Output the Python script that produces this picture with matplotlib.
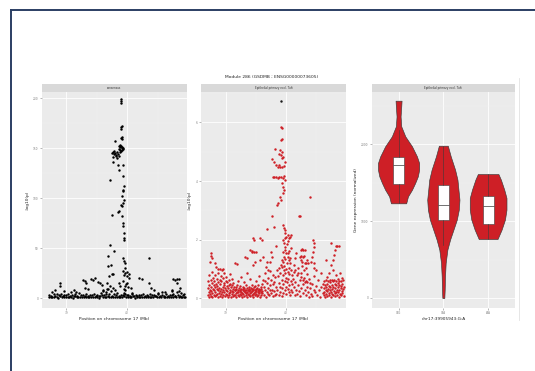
import matplotlib
matplotlib.use("Agg")
import matplotlib.pyplot as plt
from matplotlib.lines import Line2D

plt.rcParams['font.family'] = ['DejaVu Sans']

# ---------------- data ----------------
title = "Module 286 (GSDMB ; ENSG00000073605)"
strip_labels = ["consensus", "Epithelial primary excl. Tuft", "Epithelial primary excl. Tuft"]
x_label_pos = "Position on chromosome 17 (Mb)"
x_label_geno = "chr17:39905943:G:A"
y_label_p = "-log10(p)"
y_label_expr = "Gene expression (normalized)"

# consensus -log10(p), dense baseline near zero
consensus_base = [
    (38.71, 1.2), (38.72, 3.1), (38.74, 0.6), (38.75, 2.2), (38.76, 6.5), (38.77, 1.5), (38.79, 3.6),
    (38.80, 0.8), (38.81, 8.0), (38.82, 2.4), (38.84, 1.1), (38.85, 4.2), (38.87, 0.5), (38.88, 2.8),
    (38.90, 1.6), (38.91, 3.9), (38.93, 0.7), (38.94, 2.1), (38.96, 1.3), (38.97, 3.3), (38.99, 0.6),
    (39.00, 2.6), (39.02, 1.4), (39.03, 4.5), (39.05, 0.9), (39.06, 2.3), (39.08, 1.1), (39.09, 3.4),
    (39.11, 0.5), (39.12, 2.0), (39.14, 1.7), (39.15, 3.8), (39.16, 6.0), (39.17, 0.8), (39.18, 2.5),
    (39.20, 1.2), (39.21, 4.8), (39.23, 0.6), (39.24, 2.9), (39.26, 1.5), (39.27, 3.2), (39.29, 0.7),
    (39.30, 2.2), (39.32, 1.3), (39.33, 3.7), (39.35, 0.9), (39.36, 2.4), (39.38, 1.0), (39.39, 3.1),
    (39.41, 0.6), (39.42, 2.7), (39.44, 1.4), (39.45, 4.1), (39.47, 0.8), (39.48, 2.3), (39.50, 1.2),
    (39.51, 3.5), (39.53, 0.5), (39.54, 2.0), (39.56, 1.6), (39.57, 5.5), (39.58, 3.0), (39.60, 0.9),
    (39.61, 7.2), (39.62, 2.6), (39.63, 1.3), (39.65, 4.4), (39.66, 0.7), (39.67, 9.0), (39.68, 2.2),
    (39.70, 1.1), (39.71, 3.6), (39.73, 0.8), (39.74, 6.8), (39.75, 2.5), (39.77, 1.4), (39.78, 3.9),
    (39.80, 0.6), (39.81, 2.8), (39.83, 1.2), (39.84, 4.6), (39.86, 0.9), (39.87, 2.1), (39.89, 1.5),
    (39.90, 3.3), (39.92, 0.7), (39.93, 2.6), (39.95, 1.8), (39.96, 4.0), (39.98, 1.0), (39.99, 2.9),
    (40.01, 0.6), (40.02, 3.5), (40.04, 1.3), (40.05, 2.2), (40.07, 0.8), (40.08, 3.8), (40.10, 1.6),
    (40.11, 2.4), (40.13, 0.5), (40.14, 3.0), (40.16, 1.1), (40.17, 2.0), (40.19, 0.7), (40.20, 3.2),
    (40.22, 1.4), (40.23, 2.6), (40.25, 0.9), (40.26, 3.7), (40.28, 1.2), (40.29, 2.1), (40.31, 0.6),
    (40.32, 3.4), (40.34, 1.5), (40.35, 2.3), (40.37, 0.8), (40.38, 4.1), (40.40, 1.0), (40.41, 2.7),
    (40.43, 0.6), (40.44, 3.1), (40.46, 1.7), (40.47, 2.2), (40.49, 0.9), (40.50, 5.2), (40.51, 3.6),
    (40.53, 1.3), (40.54, 2.4), (40.56, 0.7), (40.57, 6.4), (40.58, 3.0), (40.60, 1.1), (40.61, 2.5),
    (40.63, 0.8), (40.64, 3.9), (40.66, 1.4), (40.67, 2.2), (40.69, 0.6), (40.70, 3.3), (40.72, 1.2),
    (40.73, 2.7), (40.75, 0.9), (40.76, 4.3), (40.78, 1.6), (40.79, 2.3), (40.81, 0.7), (40.82, 5.8),
    (40.83, 3.1), (40.85, 1.3), (40.86, 7.5), (40.87, 2.4), (40.88, 0.8), (40.89, 4.8), (40.91, 1.5),
    (40.92, 2.9), (40.93, 0.6), (40.94, 3.6), (40.95, 1.2),
]

# consensus points above the baseline
consensus_peak = [
    (39.87, 152), (39.88, 153), (39.89, 151), (39.90, 152.5), (39.91, 150), (39.92, 151.5), (39.93, 149),
    (39.88, 148), (39.90, 147), (39.92, 148.5), (39.94, 150.5), (39.89, 146), (39.86, 149), (39.75, 145),
    (39.76, 146.5), (39.78, 144), (39.79, 147), (39.80, 145.5), (39.82, 143), (39.84, 146), (39.85, 144.5),
    (39.86, 142), (39.77, 141), (39.81, 142.5), (39.83, 140), (39.76, 136.7), (39.85, 133), (39.86, 128),
    (39.93, 132.7), (39.80, 157.7), (39.90, 160.5), (39.91, 161.7), (39.92, 159.5), (39.90, 171),
    (39.905, 169), (39.91, 172), (39.905, 195.5), (39.905, 197.5), (39.905, 199),
    (39.935, 122), (39.72, 118), (39.945, 111.7), (39.94, 108), (39.93, 106.7), (39.92, 102), (39.945, 98),
    (39.935, 95), (39.92, 91.7), (39.905, 93), (39.87, 86.7), (39.85, 85.7), (39.75, 83), (39.92, 82),
    (39.935, 75), (39.94, 71.7), (39.945, 65), (39.955, 60), (39.95, 58), (39.725, 53), (39.79, 46.7),
    (39.68, 41.7), (39.735, 33), (39.93, 40), (39.95, 36.7), (39.96, 35), (40.365, 40), (39.775, 24),
    (39.745, 24), (39.93, 26.7), (39.945, 23), (39.97, 25), (40.0, 25.7), (40.03, 24), (39.99, 21.7),
    (40.03, 20), (40.2, 20), (40.24, 19.3), (39.69, 31.7), (39.70, 22), (39.96, 30), (39.94, 17),
    (39.98, 14), (39.96, 12), (40.01, 11), (39.95, 9),
    (38.893, 15), (38.904, 12), (39.27, 17.7), (39.30, 16.7), (39.326, 15), (39.41, 19), (39.44, 18),
    (39.466, 20), (39.52, 15.7), (39.55, 15), (39.58, 13.3), (39.30, 10), (39.354, 9), (39.129, 7.7),
    (39.073, 5.7), (38.961, 6.7), (40.365, 15), (40.393, 10), (40.449, 8.3), (40.758, 19), (40.787, 18.3),
    (40.826, 19), (40.86, 19), (40.815, 15), (40.73, 8.3), (40.74, 6.7), (40.871, 10), (40.618, 5.7),
    (39.86, 15), (39.888, 11.7), (39.972, 8.3), (40.0, 15), (40.056, 10), (40.084, 5), (39.944, 5),
    (39.803, 8.3), (39.775, 10), (39.719, 11.7), (39.663, 15), (39.607, 8.3), (39.65, 6.5), (39.69, 9.5),
]

# epithelial -log10(p): elevated points
epi_high = [
    (39.917, 5.83), (39.928, 5.80), (39.939, 5.43), (39.917, 5.40), (39.818, 5.11), (39.90, 5.06),
    (39.884, 4.94), (39.928, 5.0), (39.917, 4.89), (39.939, 4.80), (39.773, 4.74), (39.796, 4.66),
    (39.829, 4.55), (39.862, 4.49), (39.884, 4.55), (39.906, 4.49), (39.939, 4.47), (39.972, 4.51),
    (39.983, 4.66), (39.956, 4.83), (39.779, 4.15), (39.807, 4.13), (39.834, 4.15), (39.862, 4.09),
    (39.884, 4.13), (39.917, 4.15), (39.95, 4.09), (39.972, 4.17), (39.983, 4.03), (39.939, 3.92),
    (39.956, 3.80), (39.972, 3.69), (39.945, 3.58), (39.90, 3.47), (39.917, 3.35), (39.873, 3.26),
    (39.845, 3.18), (40.398, 3.47), (39.762, 2.81), (40.215, 2.82), (40.238, 2.82), (39.801, 2.44),
    (39.68, 2.38), (39.956, 2.50), (39.972, 2.39), (39.983, 2.33), (39.994, 2.22), (40.011, 2.10),
    (40.028, 2.16), (40.05, 2.05), (40.066, 2.10), (40.083, 2.16), (39.569, 2.05), (39.597, 1.99),
    (39.453, 2.05), (39.475, 1.99), (39.945, 1.99), (39.967, 1.88), (39.983, 1.76), (39.994, 1.65),
    (40.011, 1.53), (40.039, 1.42), (40.055, 1.31), (40.072, 1.19), (39.956, 1.59), (39.972, 1.42),
    (39.928, 1.31), (39.939, 1.08), (39.834, 1.78), (39.751, 1.59), (39.773, 1.42), (39.735, 1.25),
    (40.249, 1.65), (40.271, 1.67), (40.293, 1.65), (40.315, 1.65), (40.232, 1.42), (40.249, 1.31),
    (40.271, 1.25), (40.315, 1.22), (40.343, 1.19), (40.37, 1.19), (40.453, 1.99), (40.464, 1.88),
    (40.47, 1.76), (40.453, 1.59), (40.436, 1.42), (40.425, 1.25), (40.166, 1.53), (40.149, 1.36),
    (40.138, 1.14), (40.16, 0.97), (40.204, 0.85), (40.26, 0.74), (40.287, 0.63), (40.315, 0.57),
    (40.354, 0.57), (40.398, 0.51), (40.746, 1.90), (40.84, 1.78), (40.856, 1.78), (40.878, 1.80),
    (40.812, 1.65), (40.80, 1.48), (40.785, 1.31), (40.757, 1.14), (40.674, 1.31), (38.751, 1.53),
    (38.757, 1.44), (38.768, 1.36), (38.74, 1.25), (38.823, 1.19), (38.84, 1.06), (38.878, 0.99),
    (38.906, 1.0), (38.934, 0.97), (38.961, 1.0), (39.155, 1.19), (39.182, 1.16), (39.32, 1.42),
    (39.348, 1.36), (39.431, 1.59), (39.459, 1.14), (39.486, 1.25), (39.403, 1.65), (39.431, 1.60),
    (39.464, 1.59), (39.497, 1.59), (39.569, 1.31), (39.624, 1.42), (39.68, 1.25), (39.663, 1.08),
    (39.707, 0.97),
]

# epithelial -log10(p): dense low region
epi_low = [
    (38.70, 0.12), (38.71, 0.35), (38.71, 0.58), (38.72, 0.05), (38.72, 0.22), (38.73, 0.44), (38.73, 0.80),
    (38.74, 0.15), (38.74, 0.30), (38.75, 0.62), (38.75, 0.08), (38.76, 0.40), (38.76, 0.25), (38.77, 0.90),
    (38.77, 0.18), (38.78, 0.52), (38.78, 0.03), (38.79, 0.33), (38.79, 0.70), (38.80, 0.12), (38.80, 0.45),
    (38.81, 0.27), (38.81, 0.60), (38.82, 0.08), (38.82, 0.38), (38.83, 0.20), (38.83, 0.78), (38.84, 0.50),
    (38.84, 0.10), (38.85, 0.32), (38.85, 0.65), (38.86, 0.15), (38.86, 0.42), (38.87, 0.05), (38.87, 0.28),
    (38.88, 0.55), (38.88, 0.85), (38.89, 0.18), (38.89, 0.36), (38.90, 0.62), (38.90, 0.09), (38.91, 0.25),
    (38.91, 0.48), (38.92, 0.75), (38.92, 0.14), (38.93, 0.33), (38.93, 0.58), (38.94, 0.05), (38.94, 0.22),
    (38.95, 0.40), (38.95, 0.68), (38.96, 0.12), (38.96, 0.30), (38.97, 0.52), (38.97, 0.88), (38.98, 0.20),
    (38.98, 0.45), (38.99, 0.07), (38.99, 0.35), (39.00, 0.60), (39.00, 0.16), (39.01, 0.28), (39.01, 0.72),
    (39.02, 0.10), (39.02, 0.42), (39.03, 0.24), (39.03, 0.56), (39.04, 0.04), (39.04, 0.34), (39.05, 0.18),
    (39.05, 0.64), (39.06, 0.46), (39.06, 0.11), (39.07, 0.30), (39.07, 0.82), (39.08, 0.20), (39.08, 0.50),
    (39.09, 0.06), (39.09, 0.38), (39.10, 0.26), (39.10, 0.66), (39.11, 0.14), (39.11, 0.44), (39.12, 0.32),
    (39.12, 0.08), (39.13, 0.54), (39.13, 0.22), (39.14, 0.40), (39.14, 0.12), (39.15, 0.30),
    (39.16, 0.10), (39.16, 0.28), (39.17, 0.18), (39.17, 0.40), (39.18, 0.05), (39.18, 0.32), (39.19, 0.22),
    (39.19, 0.45), (39.20, 0.12), (39.20, 0.30), (39.21, 0.60), (39.21, 0.20), (39.22, 0.08), (39.22, 0.35),
    (39.23, 0.26), (39.23, 0.15), (39.24, 0.42), (39.24, 0.30), (39.25, 0.10), (39.25, 0.22), (39.26, 0.33),
    (39.26, 0.72), (39.27, 0.18), (39.27, 0.05), (39.28, 0.28), (39.28, 0.40), (39.29, 0.14), (39.29, 0.31),
    (39.30, 0.24), (39.30, 0.55), (39.31, 0.09), (39.31, 0.36), (39.32, 0.20), (39.32, 0.30), (39.33, 0.12),
    (39.33, 0.44), (39.34, 0.27), (39.34, 0.17), (39.35, 0.34), (39.35, 0.06), (39.36, 0.22), (39.36, 0.85),
    (39.37, 0.30), (39.37, 0.14), (39.38, 0.40), (39.38, 0.25), (39.39, 0.10), (39.39, 0.32), (39.40, 0.19),
    (39.40, 0.65), (39.41, 0.28), (39.41, 0.07), (39.42, 0.36), (39.42, 0.21), (39.43, 0.13), (39.43, 0.31),
    (39.44, 0.46), (39.44, 0.24), (39.45, 0.16), (39.45, 0.33), (39.46, 0.05), (39.46, 0.27), (39.47, 0.38),
    (39.47, 0.18), (39.48, 0.29), (39.48, 0.11), (39.49, 0.42), (39.49, 0.22), (39.50, 0.32), (39.50, 0.15),
    (39.51, 0.58), (39.51, 0.26), (39.52, 0.08), (39.52, 0.35), (39.53, 0.20), (39.53, 0.30), (39.54, 0.13),
    (39.54, 0.44), (39.55, 0.25), (39.55, 0.75), (39.56, 0.18), (39.56, 0.33), (39.57, 0.06), (39.57, 0.28),
    (39.58, 0.40), (39.58, 0.22), (39.59, 0.12), (39.59, 0.31), (39.60, 0.50), (39.60, 0.19),
    (39.61, 0.25), (39.62, 0.62), (39.63, 0.12), (39.64, 0.40), (39.65, 0.85), (39.66, 0.30), (39.67, 0.05),
    (39.68, 0.52), (39.69, 0.20), (39.70, 0.70), (39.71, 0.35), (39.72, 0.10), (39.73, 0.92), (39.74, 0.45),
    (39.75, 0.18), (39.76, 0.62), (39.77, 0.30), (39.78, 0.80), (39.79, 0.08), (39.80, 0.55), (39.81, 0.25),
    (39.82, 0.72), (39.83, 0.40), (39.84, 0.15), (39.85, 0.95), (39.66, 0.58), (39.70, 0.15), (39.74, 0.28),
    (39.78, 0.48), (39.82, 0.12),
    (39.86, 0.30), (39.87, 0.75), (39.88, 0.10), (39.88, 1.05), (39.89, 0.52), (39.90, 0.20), (39.90, 0.88),
    (39.91, 0.40), (39.92, 1.15), (39.93, 0.62), (39.93, 0.08), (39.94, 0.35), (39.95, 0.80), (39.95, 1.25),
    (39.96, 0.48), (39.96, 0.18), (39.97, 0.95), (39.97, 1.10), (39.98, 0.60), (39.98, 0.28), (39.99, 1.35),
    (39.99, 0.85), (40.00, 0.40), (40.00, 1.00), (40.01, 0.70), (40.01, 0.15), (40.02, 1.20), (40.02, 0.55),
    (40.03, 0.90), (40.03, 0.32), (40.04, 1.55), (40.04, 0.65), (40.05, 0.22), (40.05, 1.05), (40.06, 0.45),
    (40.06, 0.82), (40.07, 1.38), (40.07, 0.12), (40.08, 0.60), (40.08, 0.95), (40.09, 0.30), (40.09, 1.72),
    (40.10, 0.50), (40.10, 0.78), (40.02, 1.85), (40.04, 1.95), (39.99, 2.05), (40.06, 1.62),
    (40.11, 0.20), (40.12, 0.65), (40.13, 0.40), (40.14, 0.90), (40.15, 0.10), (40.16, 0.55), (40.17, 0.30),
    (40.18, 0.78), (40.19, 0.15), (40.20, 0.45), (40.21, 1.05), (40.22, 0.25), (40.23, 0.62), (40.24, 0.08),
    (40.25, 0.88), (40.26, 0.35), (40.27, 1.10), (40.28, 0.50), (40.29, 0.18), (40.30, 0.70), (40.31, 0.95),
    (40.32, 0.28), (40.33, 0.60), (40.34, 0.12), (40.35, 0.82), (40.36, 0.40), (40.37, 0.22), (40.38, 0.65),
    (40.39, 0.05), (40.40, 0.35), (40.28, 1.40), (40.30, 1.45), (40.26, 1.45), (40.33, 1.05), (40.35, 1.30),
    (40.41, 0.15), (40.43, 0.50), (40.44, 0.08), (40.46, 0.30), (40.47, 0.75), (40.49, 0.20), (40.50, 0.42),
    (40.52, 0.10), (40.53, 0.62), (40.55, 0.28), (40.56, 0.05), (40.58, 0.38), (40.59, 0.85), (40.61, 0.18),
    (40.62, 0.50), (40.47, 1.05), (40.46, 1.20), (40.50, 0.95),
    (40.63, 0.10), (40.63, 0.35), (40.64, 0.58), (40.64, 0.20), (40.65, 0.45), (40.65, 0.05), (40.66, 0.30),
    (40.66, 0.62), (40.67, 0.15), (40.67, 0.40), (40.68, 0.72), (40.68, 0.25), (40.69, 0.08), (40.69, 0.50),
    (40.70, 0.33), (40.70, 0.60), (40.71, 0.18), (40.71, 0.42), (40.72, 0.88), (40.72, 0.12), (40.73, 0.28),
    (40.73, 0.55), (40.74, 0.38), (40.74, 0.64), (40.75, 0.05), (40.75, 0.22), (40.76, 0.46), (40.76, 0.62),
    (40.77, 0.15), (40.77, 0.32), (40.78, 0.58), (40.78, 0.95), (40.79, 0.10), (40.79, 0.40), (40.80, 0.26),
    (40.80, 0.63), (40.81, 0.50), (40.81, 0.18), (40.82, 0.35), (40.82, 0.08), (40.83, 0.60), (40.83, 0.44),
    (40.84, 0.22), (40.84, 0.78), (40.85, 0.30), (40.85, 0.12), (40.86, 0.52), (40.86, 0.65), (40.87, 0.20),
    (40.87, 0.38), (40.88, 0.05), (40.88, 0.60), (40.89, 0.28), (40.89, 0.45), (40.90, 0.85), (40.90, 0.15),
    (40.91, 0.34), (40.91, 0.58), (40.92, 0.10), (40.92, 0.42), (40.93, 0.25), (40.93, 0.70), (40.94, 0.50),
    (40.94, 0.18), (40.95, 0.32), (40.95, 0.62), (40.96, 0.08), (40.96, 0.40),
]

epi_lead = [(39.917, 6.72)]

# violin outlines (level, half width in category units) and box stats
genotypes = ["G/G", "G/A", "A/A"]
gg_levels = [1230, 1320, 1407, 1494, 1580, 1667, 1753, 1840, 1970, 2100, 2230, 2359, 2489, 2563]
gg_half = [0.17, 0.21, 0.30, 0.37, 0.43, 0.46, 0.46, 0.41, 0.30, 0.15, 0.06, 0.045, 0.06, 0.067]
ga_levels = [0, 108, 281, 455, 628, 758, 887, 1017, 1147, 1277, 1407, 1537, 1667, 1840, 1978]
ga_half = [0.022, 0.03, 0.037, 0.052, 0.09, 0.15, 0.225, 0.30, 0.345, 0.36, 0.337, 0.315, 0.262, 0.165, 0.10]
aa_levels = [766, 887, 1017, 1147, 1299, 1407, 1537, 1610]
aa_half = [0.21, 0.30, 0.375, 0.41, 0.41, 0.36, 0.285, 0.23]

box_q1 = [1481, 1009, 961]
box_med = [1727, 1212, 1190]
box_q3 = [1827, 1463, 1320]
whisk_lo = [1234, 690, 766]
whisk_hi = [2180, 1978, 1610]

# ---------------- figure ----------------
W, H = 535, 371
fig = plt.figure(figsize=(W / 100, H / 100), dpi=100)
fig.patch.set_facecolor("white")

RED = "#CE1F26"
TICK_GREY = "#7F7F7F"
MS = 1.75


def px_axes(left, top, right, bottom):
    return fig.add_axes([left / W, 1 - bottom / H, (right - left) / W, (bottom - top) / H])


def strip(left, right, text):
    s = px_axes(left, 84, right, 91.7)
    s.set_facecolor("#D9D9D9")
    s.set_xticks([])
    s.set_yticks([])
    for sp in s.spines.values():
        sp.set_visible(False)
    s.text(0.5, 0.5, text, ha="center", va="center", fontsize=2.0, color="#333333",
           transform=s.transAxes)


def style(ax):
    ax.set_facecolor("#EBEBEB")
    for sp in ax.spines.values():
        sp.set_visible(False)
    ax.set_axisbelow(True)
    ax.grid(which="major", color="white", lw=0.6)
    ax.grid(which="minor", color="#F4F4F4", lw=0.3)
    ax.tick_params(which="major", length=1.5, width=0.4, color=TICK_GREY, labelcolor=TICK_GREY,
                   labelsize=2.1, pad=0.8)
    ax.tick_params(which="minor", length=0)


panels = [(41.7, 186.7), (201, 346), (371.7, 515)]

# panel 1: consensus
ax1 = px_axes(panels[0][0], 91.7, panels[0][1], 308)
style(ax1)
bx, by = zip(*consensus_base)
ax1.plot(bx, by, "o", color="black", ms=MS, mew=0)
px_, py_ = zip(*consensus_peak)
ax1.plot(px_, py_, "o", color="black", ms=MS, mew=0)
ax1.set_xlim(38.595, 40.98)
ax1.set_ylim(-10, 206.6)
ax1.set_xticks([39, 40])
ax1.set_xticks([39.5, 40.5], minor=True)
ax1.set_yticks([0, 50, 100, 150, 200])
ax1.set_yticks([25, 75, 125, 175], minor=True)
ax1.set_xlabel(x_label_pos, fontsize=3.1, labelpad=1.5, color="#222222")
ax1.set_ylabel(y_label_p, fontsize=3.1, labelpad=2.0, color="#222222")
strip(panels[0][0], panels[0][1], strip_labels[0])

# panel 2: epithelial
ax2 = px_axes(panels[1][0], 91.7, panels[1][1], 308)
style(ax2)
lx, ly = zip(*epi_low)
ax2.plot(lx, ly, "o", color=RED, ms=MS, mew=0)
hx, hy = zip(*epi_high)
ax2.plot(hx, hy, "o", color=RED, ms=MS, mew=0)
ex, ey = zip(*epi_lead)
ax2.plot(ex, ey, "o", color="#1A1A1A", ms=MS, mew=0)
ax2.set_xlim(38.59, 41.0)
ax2.set_ylim(-0.33, 7.05)
ax2.set_xticks([39, 40])
ax2.set_xticks([39.5, 40.5], minor=True)
ax2.set_yticks([0, 2, 4, 6])
ax2.set_yticks([1, 3, 5, 7], minor=True)
ax2.set_xlabel(x_label_pos, fontsize=3.1, labelpad=1.5, color="#222222")
ax2.set_ylabel(y_label_p, fontsize=3.1, labelpad=3.0, color="#222222")
strip(panels[1][0], panels[1][1], strip_labels[1])

# panel 3: violins
ax3 = px_axes(panels[2][0], 91.7, panels[2][1], 308)
style(ax3)
profiles = [(gg_levels, gg_half), (ga_levels, ga_half), (aa_levels, aa_half)]
for i, (lev, half) in enumerate(profiles):
    pos = i + 1
    ax3.fill_betweenx(lev, [pos - h for h in half], [pos + h for h in half],
                      facecolor=RED, edgecolor="#3A3A3A", lw=0.45, zorder=2)
stats = [dict(med=box_med[i], q1=box_q1[i], q3=box_q3[i], whislo=whisk_lo[i], whishi=whisk_hi[i])
         for i in range(3)]
ax3.bxp(stats, positions=[1, 2, 3], widths=0.25, showfliers=False, showcaps=False,
        patch_artist=True, manage_ticks=False,
        boxprops=dict(facecolor="white", edgecolor="#3A3A3A", lw=0.4),
        medianprops=dict(color="#3A3A3A", lw=0.5),
        whiskerprops=dict(color="#3A3A3A", lw=0.4), zorder=3)
ax3.set_xlim(0.4, 3.6)
ax3.set_ylim(-130, 2680)
ax3.set_xticks([1, 2, 3])
ax3.set_xticklabels(genotypes)
ax3.set_yticks([0, 1000, 2000])
ax3.set_yticks([500, 1500, 2500], minor=True)
ax3.set_xlabel(x_label_geno, fontsize=3.1, labelpad=1.5, color="#222222")
ax3.set_ylabel(y_label_expr, fontsize=3.1, labelpad=2.0, color="#222222")
strip(panels[2][0], panels[2][1], strip_labels[2])

# overall title
fig.text(272 / W, 1 - 77 / H, title, ha="center", va="center", fontsize=3.2, color="#222222")

# slide frame lines
navy = "#2B3E63"
fig.add_artist(Line2D([11 / W, 11 / W], [0, 1 - 10 / H], transform=fig.transFigure, color=navy, lw=1.4))
fig.add_artist(Line2D([11 / W, 1], [1 - 10 / H, 1 - 10 / H], transform=fig.transFigure, color=navy, lw=1.4))
fig.add_artist(Line2D([519 / W, 519 / W], [1 - 320 / H, 1 - 78 / H], transform=fig.transFigure,
                      color="#E2E2E2", lw=0.6))

fig.savefig("out.png", dpi=100)
